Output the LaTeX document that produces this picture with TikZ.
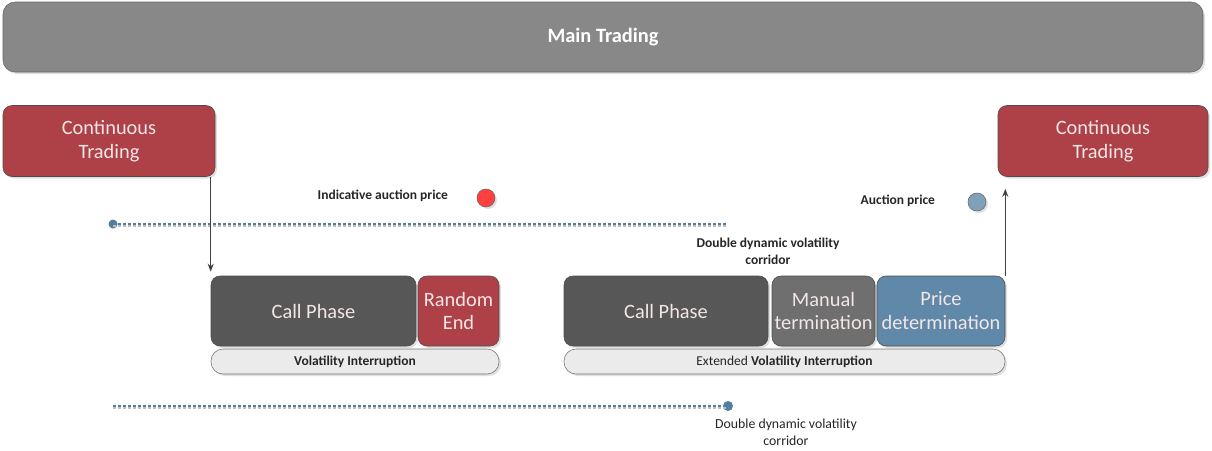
\documentclass[tikz,border=0pt]{standalone}
\usepackage{fontspec}
\setmainfont{Carlito}
\usetikzlibrary{arrows.meta,shadows}

\definecolor{mainGray}{HTML}{888888}
\definecolor{phaseRed}{HTML}{AE4047}
\definecolor{phaseDark}{HTML}{575757}
\definecolor{phaseMid}{HTML}{6F6F6F}
\definecolor{phaseBlue}{HTML}{6089A9}
\definecolor{barGray}{HTML}{EBEBEB}
\definecolor{corrBlue}{HTML}{4F7FA3}
\definecolor{lightText}{HTML}{F2E6E6}

\newdimen\px
\px=0.025cm

\tikzset{
  phase/.style={draw=black!70, rounded corners=9\px, text=lightText, align=center,
    font=\fontsize{14.5}{17}\selectfont, inner sep=0pt,
    drop shadow={shadow xshift=2\px, shadow yshift=-2\px, opacity=0.25}},
  bar/.style={draw=black!55, fill=barGray, rounded corners=12\px, inner sep=0pt,
    font=\fontsize{9.6}{12}\selectfont, text=black!85,
    drop shadow={shadow xshift=2\px, shadow yshift=-2\px, opacity=0.25}},
  lbl/.style={font=\bfseries\fontsize{9.6}{12}\selectfont, text=black!85, align=center},
  corr/.style={corrBlue, dash pattern=on 3\px off 2\px, line width=2\px},
  corrshade/.style={black!25, dash pattern=on 3\px off 2\px, line width=2\px},
  flow/.style={-{Stealth[length=2mm]}, black!75, line width=0.8pt},
}

\begin{document}
\begin{tikzpicture}[x=\px, y=-\px]
	\useasboundingbox (0,0) rectangle (1212,450);

	% top bar
	\node[phase, fill=mainGray, draw=black!60, rounded corners=12\px,
	  minimum width=1200\px, minimum height=70\px, text=white,
	  font=\bfseries\fontsize{14.5}{17}\selectfont] (main) at (603,37) {Main Trading};

	% continuous trading
	\node[phase, fill=phaseRed, minimum width=212\px, minimum height=71\px] (ctleft) at (109,141) {Continuous\\Trading};
	\node[phase, fill=phaseRed, minimum width=210\px, minimum height=71\px] (ctright) at (1103,141) {Continuous\\Trading};

	% volatility interruption
	\node[phase, fill=phaseDark, minimum width=205\px, minimum height=70\px] (callA) at (313.5,311) {Call Phase};
	\node[phase, fill=phaseRed, minimum width=81\px, minimum height=70\px] (randEnd) at (458.5,311) {Random\\End};
	\node[bar, minimum width=288\px, minimum height=25\px] (volInt) at (355,361.5) {\textbf{Volatility Interruption}};

	% extended volatility interruption
	\node[phase, fill=phaseDark, minimum width=204\px, minimum height=70\px] (callB) at (666,311) {Call Phase};
	\node[phase, fill=phaseMid, minimum width=103\px, minimum height=70\px] (manTerm) at (823.5,311) {Manual\\termination};
	\node[phase, fill=phaseBlue, minimum width=128\px, minimum height=70\px] (priceDet) at (941,311) {Price\\determination};
	\node[bar, minimum width=441\px, minimum height=25\px] (extVolInt) at (784.5,361.5) {Extended \textbf{Volatility Interruption}};

	% prices
	\node[lbl, anchor=east] (iapLabel) at (453,196) {Indicative auction price};
	\node[circle, draw=black!60, fill=red!75, minimum size=18\px, inner sep=0pt,
	  drop shadow={shadow xshift=2\px, shadow yshift=-2\px, opacity=0.25}] (iapDot) at (486,198) {};
	\node[lbl, anchor=east] (apLabel) at (940,201) {Auction price};
	\node[circle, draw=black!60, fill=phaseBlue!80, minimum size=18\px, inner sep=0pt,
	  drop shadow={shadow xshift=2\px, shadow yshift=-2\px, opacity=0.25}] (apDot) at (977,202) {};

	% corridors
	\node[circle, fill=corrBlue, minimum size=9\px, inner sep=0pt] (corrTopA) at (113,224) {};
	\coordinate (corrTopB) at (727,224);
	\draw[corrshade] ([yshift=-2\px]corrTopA.center) -- ([yshift=-2\px]corrTopB);
	\draw[corr] (corrTopA) -- (corrTopB);
	\node[lbl] (corrTopLabel) at (768,251) {Double dynamic volatility\\corridor};

	\coordinate (corrBotA) at (113,406);
	\node[circle, fill=corrBlue, minimum size=10\px, inner sep=0pt] (corrBotB) at (728,406) {};
	\draw[corrshade] ([yshift=-2\px]corrBotA) -- ([yshift=-2\px]corrBotB.center);
	\draw[corr] (corrBotA) -- (corrBotB);
	\node[lbl, font=\fontsize{9.8}{12}\selectfont] (corrBotLabel) at (786,432) {Double dynamic volatility\\corridor};

	% arrows
	\draw[flow, shorten >=1mm] (ctleft.south east -| callA.north west) -- (callA.north west);
	\draw[flow, shorten >=3mm] (priceDet.north east) -- (priceDet.north east |- ctright.south);
\end{tikzpicture}
\end{document}
